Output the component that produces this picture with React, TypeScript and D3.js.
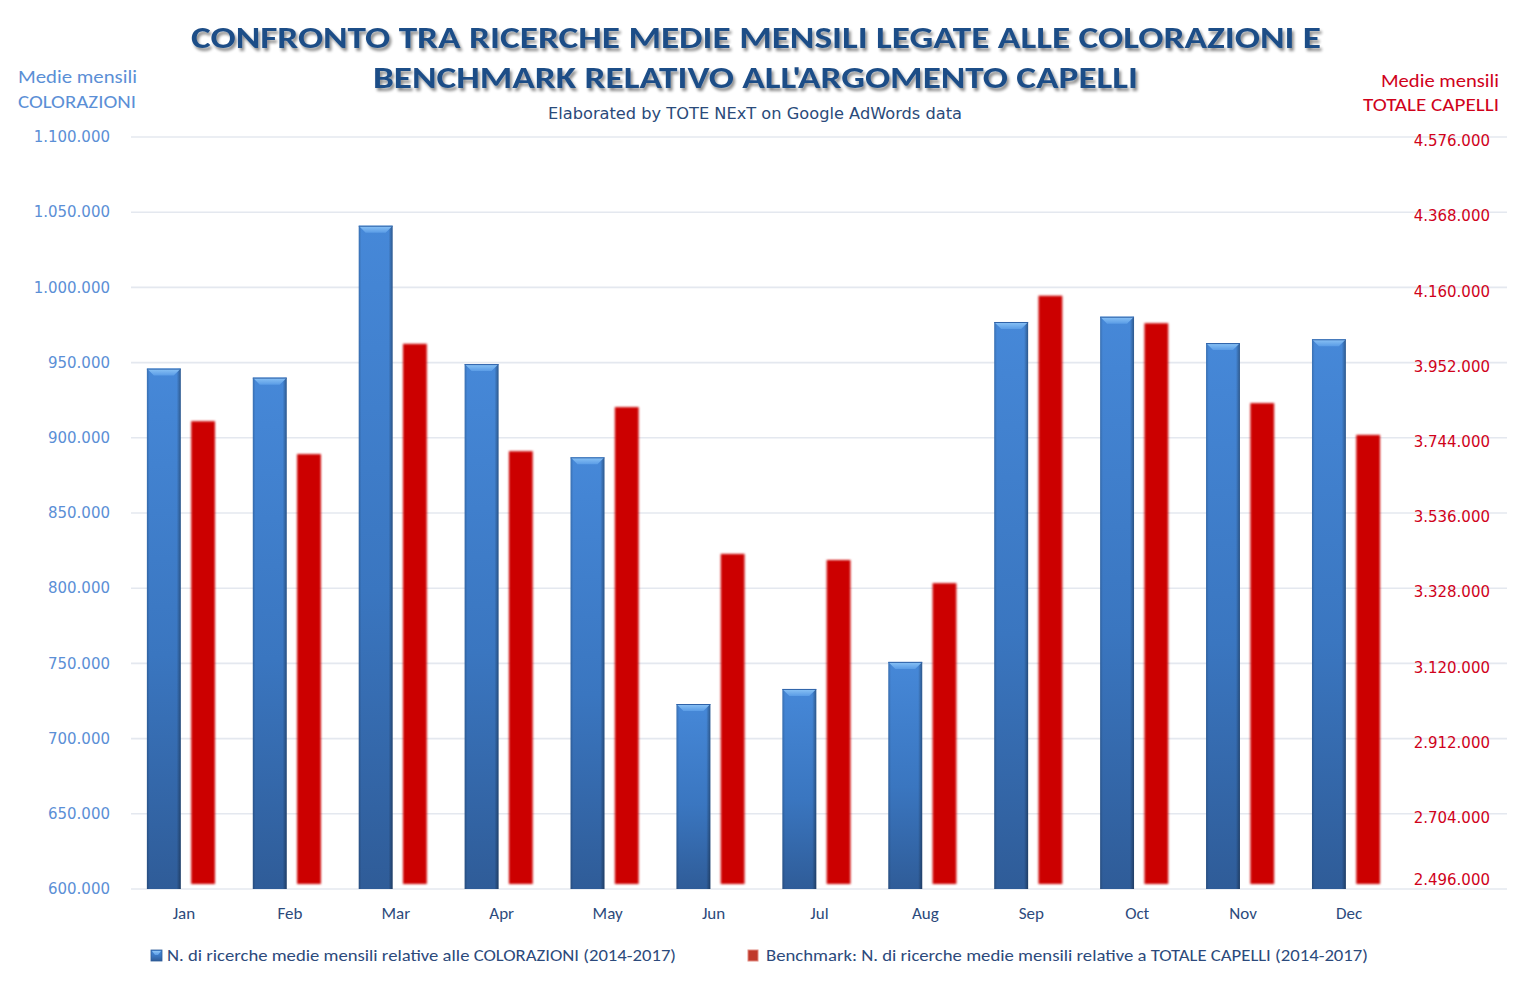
import React from "react";
import * as d3 from "d3";

const months = ["Jan", "Feb", "Mar", "Apr", "May", "Jun", "Jul", "Aug", "Sep", "Oct", "Nov", "Dec"];
const coloriValues = [946000, 940000, 1041000, 949000, 887000, 723000, 733000, 751000, 977000, 980500, 963000, 965500];
const capelliValues = [3790000, 3699000, 4004000, 3707000, 3829000, 3423000, 3406000, 3342000, 4137000, 4061000, 3840000, 3752000];
const leftTicks = [600000, 650000, 700000, 750000, 800000, 850000, 900000, 950000, 1000000, 1050000, 1100000];
const rightTicks = [2496000, 2704000, 2912000, 3120000, 3328000, 3536000, 3744000, 3952000, 4160000, 4368000, 4576000];

const titleLines = [
  "CONFRONTO TRA RICERCHE MEDIE MENSILI LEGATE ALLE COLORAZIONI E",
  "BENCHMARK RELATIVO ALL'ARGOMENTO CAPELLI",
];
const subtitle = "Elaborated by TOTE NExT on Google AdWords data";
const legendLabels = [
  "N. di ricerche medie mensili relative alle COLORAZIONI (2014-2017)",
  "Benchmark: N. di ricerche medie mensili relative a TOTALE CAPELLI (2014-2017)",
];

const fmt = (v: number) => d3.format(",")(v).replace(/,/g, ".");

const W = 1514;
const H = 985;
const top = 137;
const bottom = 889;
const plotLeft = 131;
const plotRight = 1402;
const gridRight = 1507;

const narrow = "Carlito, 'Liberation Sans Narrow', 'Open Sans', sans-serif";
const wide = "'DejaVu Sans', Lato, sans-serif";

export default function App() {
  const x = d3.scaleBand<string>().domain(months).range([plotLeft, plotRight]);
  const yL = d3.scaleLinear().domain([600000, 1100000]).range([bottom, top]);
  const yR = d3.scaleLinear().domain([2496000, 4576000]).range([bottom, top]);
  const bw = x.bandwidth();
  const blueOff = -0.35 * bw;
  const blueW = 0.32 * bw;
  const redOff = 0.068 * bw;
  const redW = 0.225 * bw;

  return (
    <svg width={W} height={H} style={{ position: "absolute", left: 0, top: 0, background: "#fff" }}>
      <defs>
        <linearGradient id="blueBody" x1="0" y1="0" x2="0" y2="1">
          <stop offset="0%" stopColor="#4688d8" />
          <stop offset="55%" stopColor="#3a76c0" />
          <stop offset="100%" stopColor="#2f5c98" />
        </linearGradient>
        <linearGradient id="blueSide" x1="0" y1="0" x2="1" y2="0">
          <stop offset="0%" stopColor="#000" stopOpacity="0.18" />
          <stop offset="8%" stopColor="#000" stopOpacity="0" />
          <stop offset="88%" stopColor="#000" stopOpacity="0" />
          <stop offset="100%" stopColor="#000" stopOpacity="0.35" />
        </linearGradient>
        <linearGradient id="blueTop" x1="0" y1="0" x2="0" y2="1">
          <stop offset="0%" stopColor="#8cc4f6" />
          <stop offset="100%" stopColor="#5a9ce6" />
        </linearGradient>
        <filter id="redBlur" x="-20%" y="-5%" width="140%" height="110%">
          <feGaussianBlur stdDeviation="1.3" />
        </filter>
        <filter id="titleShadow" x="-5%" y="-30%" width="110%" height="160%">
          <feGaussianBlur in="SourceAlpha" stdDeviation="1.6" result="b" />
          <feOffset in="b" dx="2" dy="2.5" result="o" />
          <feComponentTransfer in="o" result="s">
            <feFuncA type="linear" slope="0.45" />
          </feComponentTransfer>
          <feMerge>
            <feMergeNode in="s" />
            <feMergeNode in="SourceGraphic" />
          </feMerge>
        </filter>
      </defs>

      {/* gridlines */}
      {leftTicks.map((t) => (
        <line key={t} x1={plotLeft} x2={gridRight} y1={yL(t)} y2={yL(t)} stroke="#e4e8ef" strokeWidth={1.6} />
      ))}

      {/* title */}
      <g filter="url(#titleShadow)" fill="#1f4e87" fontFamily={narrow} fontWeight="bold" fontSize={31}>
        <text x={191} y={48} textLength={1130} lengthAdjust="spacingAndGlyphs">{titleLines[0]}</text>
        <text x={373} y={88} textLength={765} lengthAdjust="spacingAndGlyphs">{titleLines[1]}</text>
      </g>
      <text x={548} y={119} textLength={414} lengthAdjust="spacingAndGlyphs" fontFamily={wide} fontSize={15} fill="#2a4a7a">
        {subtitle}
      </text>

      {/* axis titles */}
      <g fontFamily={narrow} fontSize={18} fill="#5b8fd6">
        <text x={18} y={83} textLength={119} lengthAdjust="spacingAndGlyphs">Medie mensili</text>
        <text x={18} y={108} textLength={118} lengthAdjust="spacingAndGlyphs">COLORAZIONI</text>
      </g>
      <g fontFamily={narrow} fontSize={18} fill="#d0021b">
        <text x={1381} y={87} textLength={118} lengthAdjust="spacingAndGlyphs">Medie mensili</text>
        <text x={1363} y={111} textLength={136} lengthAdjust="spacingAndGlyphs">TOTALE CAPELLI</text>
      </g>

      {/* left ticks */}
      {leftTicks.map((t) => (
        <text key={t} x={110} y={yL(t)} dy="0.35em" textAnchor="end" fontFamily={wide} fontSize={15} fill="#5b8fd6">
          {fmt(t)}
        </text>
      ))}
      {/* right ticks */}
      {rightTicks.map((t) => (
        <text key={t} x={1490} y={Math.min(yR(t) + 4, 880)} dy="0.35em" textAnchor="end" fontFamily={wide} fontSize={15} fill="#d0021b">
          {fmt(t)}
        </text>
      ))}

      {/* blue bars */}
      {months.map((m, i) => {
        const c = (x(m) as number) + bw / 2;
        const x0 = c + blueOff;
        const y0 = yL(coloriValues[i]);
        const h = bottom - y0;
        const bev = 7;
        const inset = 7;
        return (
          <g key={m}>
            <rect x={x0} y={y0} width={blueW} height={h} fill="url(#blueBody)" />
            <rect x={x0} y={y0} width={blueW} height={h} fill="url(#blueSide)" />
            <path
              d={`M${x0},${y0} L${x0 + blueW},${y0} L${x0 + blueW - inset},${y0 + bev} L${x0 + inset},${y0 + bev} Z`}
              fill="url(#blueTop)"
            />
            <line x1={x0} x2={x0 + blueW} y1={y0 + 0.5} y2={y0 + 0.5} stroke="#2f62a8" strokeWidth={1} />
          </g>
        );
      })}

      {/* red bars */}
      <g filter="url(#redBlur)">
        {months.map((m, i) => {
          const c = (x(m) as number) + bw / 2;
          const y0 = yR(capelliValues[i]);
          return <rect key={m} x={c + redOff} y={y0} width={redW} height={bottom - 5 - y0} fill="#cc0000" />;
        })}
      </g>

      {/* month labels */}
      {months.map((m) => (
        <text key={m} x={(x(m) as number) + bw / 2} y={919} textAnchor="middle" fontFamily={narrow} fontSize={17} fill="#2c4a7c">
          {m}
        </text>
      ))}

      {/* legend */}
      <rect x={151} y={950} width={11} height={11} fill="url(#blueBody)" stroke="#2f5c98" strokeWidth={0.8} />
      <path d="M152,951 L161,951 L158,955 L155,955 Z" fill="url(#blueTop)" />
      <text x={167} y={961} textLength={509} lengthAdjust="spacingAndGlyphs" fontFamily={narrow} fontSize={17} fill="#2c4a7c">
        {legendLabels[0]}
      </text>
      <rect x={748} y={950} width={10} height={11} fill="#c0392b" stroke="#e08a80" strokeWidth={1} />
      <text x={766} y={961} textLength={602} lengthAdjust="spacingAndGlyphs" fontFamily={narrow} fontSize={17} fill="#2c4a7c">
        {legendLabels[1]}
      </text>
    </svg>
  );
}
